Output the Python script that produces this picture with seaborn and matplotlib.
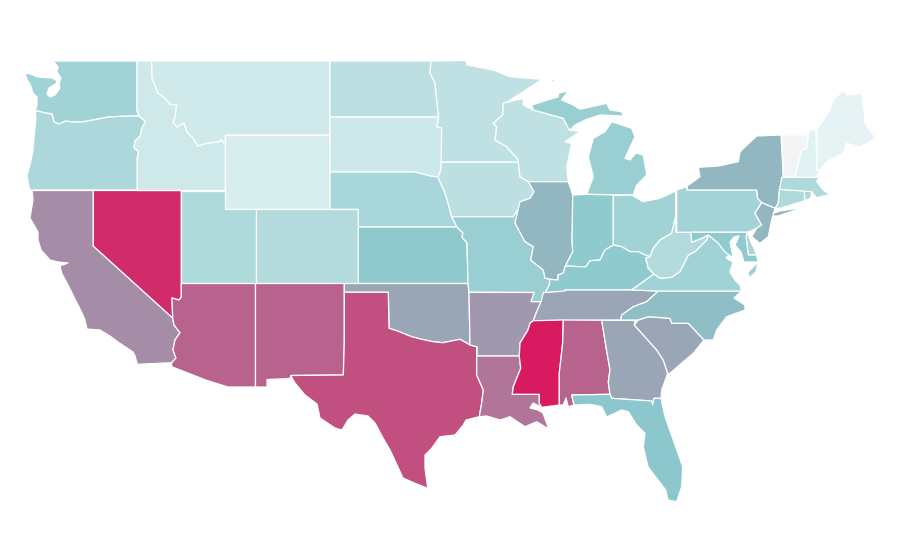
import pandas as pd
import seaborn as sns
import matplotlib.pyplot as plt

# shared borders in pixels
wa_or = [(139,116),(122,116.3),(108,117),(93,120),(82,122),(72,122),(66,121),(59,124),(54,122),(52,114),(45,113),(38,111),(35,112)]
or_id = [(139,116),(145.5,121.5),(142,128),(140,136.5),(135,141),(134,148),(138,151),(138.5,155),(137.3,157)]
id_mt = [(151.7,61),(152,78),(156,88),(158,93),(165,98),(170,104),(176.7,105),(175,118),(173,122),(177,127),(184,123),(187,132),(193,138),(198,146),(206.7,143.3),(218,142),(221.7,140),(225.3,145)]
ca_az = [(172.7,318),(174,325),(180,332.7),(175,340),(173,350),(176,358),(171.7,362.7)]
red_river = [(389,328.3),(396.7,330.7),(411.7,336.7),(421.7,339.3),(433,341.7),(443,342.7),(460,339.3),(470,345)]
ar_ms_river = [(541,301.7),(536.7,311.7),(533.3,320.7),(530,323.3),(528,330),(520,343),(519.3,356)]
la_ms = [(519.3,356),(520.7,368.3),(513.3,386.7),(512.3,394.3),(539.3,394.3),(539.3,403.3),(541.7,407.3)]
tx_la = [(476.7,346.7),(476.7,375),(483.3,390),(481.7,403),(479.3,416.7)]
al_ga = [(601.7,320.3),(606,346.7),(610,370),(608.3,381.7),(610,394.3)]
ga_fl = [(610,394.3),(611.7,398.3),(651.7,401),(652.7,405),(654,398.3),(661,398.3)]
ga_sc = [(634.3,325),(643.3,335),(656.7,350),(663.3,360),(667.7,373.3)]
nc_sc = [(620.7,320),(634.3,320),(638.3,320),(648.3,316.7),(670,318.3),(671.7,323.3),(688.3,323.3),(704,340)]
nc_tn = [(620.7,320),(621.7,315),(633.3,306.7),(646.7,301.7),(658.3,291)]
mo_il = [(520,201.7),(515,223),(525,241.7),(533.3,246.7),(530.7,260),(543.3,270),(545,278),(550,279.3)]
ia_mo_river = [(438,177),(445,193),(448,203),(451.7,216.7)]
ohio_river_in = [(613.3,245),(605,250),(600,260),(590,260.7),(586,266.7),(580,266.7),(566.7,266),(565,266.7)]
ohio_river_oh = [(613.3,245),(621.7,246.7),(630,251.7),(638.3,251.7),(645,255),(650,256.7)]
oh_wv = [(675.7,216.7),(671.7,233.3),(660,240),(653.3,248.3),(650,256.7)]
ky_wv = [(650,256.7),(645.7,258.3),(648.3,268.3),(654,274)]
va_wv = [(654,274),(660,278.3),(671.7,277.3),(680,271.7),(688.3,255),(695,251.7),(706.7,240),(708.3,235)]
mn_wi = [(503.3,103.3),(502.7,115),(493.3,123.3),(496.7,126.7),(495,140),(506.7,146.7),(518.3,160),(518.3,162.3)]
ny_pa_nj = [(756.7,190),(757.7,198.3),(761.7,202.7)]
pa_nj = [(761.7,202.7),(755,213.3),(761.7,225),(756.7,228.3)]
west_ny = [(779.3,190),(778.3,203.3),(775,208.3)]
mo_ks = [(457,227),(463,233),(462,237),(467,243),(468,283.5)]
mt_nd_x = 330

state_names = ["WA","OR","CA","NV","ID","MT","WY","UT","AZ","CO","NM","ND","SD","NE","KS","OK","TX",
               "MN","IA","MO","AR","LA","WI","IL","MI","IN","OH","KY","TN","MS","AL","GA","FL","SC","NC",
               "VA","WV","PA","NY","NJ","DE","MD","CT","RI","MA","VT","NH","ME"]
# reading of each state's shade on the light - teal - pink scale, VT has no value
state_values = [39,33,67,95,16,15,12,32,79,30,79,25,17,35,49,60,85,
                24,25,43,64,74,24,55,43,48,39,48,60,100,79,60,50,60,53,
                39,30,38,55,55,35,48,32,33,32,None,7,5]

shapes = {
    "WA": [[(54,61),(137,61),(137,110)] + wa_or + [(37,105),(37,97),(33,93),(30,84),(27,80),(25,73),(30,74),(38,77),(52,78),(56,80),(57,83),(49,88),(47,94),(50,97),(55,95),(60,88),(59,84),(61,78),(57,72),(58,67),(54,62)]],
    "OR": [wa_or[::-1] + or_id[1:] + [(137.3,190),(30,190),(29,187),(27,175),(30,165),(33,150),(34,138),(36,118)]],
    "CA": [[(32,190.5),(93.3,190.5),(93.3,246)] + ca_az + [(137.3,364.3),(135,356),(133,352),(118,342),(110,336),(100,330),(87,329),(85,320),(82,313),(73,295),(67,283),(62,274),(60,266),(68,263),(58,262),(50,260),(41,250),(38,240),(38,232),(30,218),(33,200)]],
    "NV": [[(93.3,190.5),(181.3,190.5),(181.3,297),(179,300),(172,298),(172.7,318),(93.3,246)]],
    "ID": [[(137,61)] + id_mt + [(225.3,190.5),(137.3,190.5),(137.3,157)] + or_id[::-1][1:] + [(137,110)]],
    "MT": [id_mt + [(225.3,135),(mt_nd_x,135),(mt_nd_x,61)]],
    "WY": [[(225.3,135),(mt_nd_x,135),(mt_nd_x,209.3),(225.3,209.3)]],
    "UT": [[(181.3,190.5),(225.3,190.5),(225.3,209.3),(255.5,209.3),(255.5,283.5),(181.3,283.5)]],
    "AZ": [[(181.3,283.5),(255.5,283.5),(255.5,387),(228,387),(205.7,380),(171.7,366.7)] + ca_az[::-1] + [(172,298),(179,300),(181.3,297)]],
    "CO": [[(255.5,209.3),(358.3,209.3),(358.3,283.5),(255.5,283.5)]],
    "NM": [[(255.5,283.5),(344.3,283.5),(344.3,343),(343.3,375),(290.7,375.5),(290,378.5),(267,379.5),(267,387),(255.5,387)]],
    "ND": [[(mt_nd_x,61),(431,61),(430,73),(435,83),(437,103),(438.7,117),(mt_nd_x,117)]],
    "SD": [[(mt_nd_x,117),(438.7,117),(437,127),(441.7,128),(441.7,162),(441,170),(438,177),(430,176),(415,172),(mt_nd_x,172)]],
    "NE": [[(mt_nd_x,172),(415,172),(430,176)] + ia_mo_river + [(457,227),(358.3,227),(358.3,209.3),(mt_nd_x,209.3)]],
    "KS": [[(358.3,227)] + mo_ks + [(358.3,283.5)]],
    "OK": [[(344.3,283.5),(468,283.5),(469,292.3)] + [(470,345)] + red_river[::-1][1:] + [(388.3,292.3),(344.3,292.3)]],
    "TX": [[(344.3,292.3),(388.3,292.3)] + red_river + tx_la + [(466,420),(463.3,425),(455,435),(440,436.7),(431.7,448.3),(425,455),(425,468),(427.7,488.3),(415,483.3),(403,478),(397,465),(390,450),(383,438),(375,423),(368,416),(355,414),(348,420),(342,430),(335,428),(320,418),(317,404),(305,395),(295,383),(290.7,375.5),(343.3,375),(344.3,343)]],
    "MN": [[(431,61),(466,60.5),(467,65),(493.3,70),(510,76.7),(541.7,79.3),(523.3,91.7),(505,103.3)] + mn_wi + [(441,162.3),(441.7,128),(437,127),(438.7,117),(437,103),(435,83),(430,73)]],
    "IA": [[(441,162.3),(518.3,162.3),(520,176.7),(528.3,181.7),(534,191.7),(530,198.3),(520,201.7),(520,206.7),(513.3,216.7),(451.7,216.7),(448,203),(445,193),(438,177),(441,170)]],
    "MO": [[(451.7,216.7),(513.3,216.7),(520,206.7)] + mo_il[1:] + [(549.3,285),(545,293),(541,301.7),(531,301.7),(534,292.5),(469,292.3),(468,283.5)] + mo_ks[::-1][1:]],
    "AR": [[(469,292.3),(534,292.5),(531,301.7)] + ar_ms_river + [(476.7,356),(476.7,346.7),(470,345)]],
    "LA": [[(476.7,356)] + la_ms + [(533,403),(530,408),(538,410),(543,413),(548.7,429),(536.7,421.7),(525,426.7),(510,416.7),(500,420),(486.7,416),(479.3,416.7)] + tx_la[::-1][1:]],
    "WI": [mn_wi[:-1] + [(518.3,162.3),(520,176.7),(528.3,181.7),(568.3,181.7),(566.7,166.7),(571.7,143.3),(565,141.7),(580,131.7),(570,130),(568.3,128.3),(563.3,118.3),(533.3,110),(523.3,105),(523.3,98.3)]],
    "IL": [[(528.3,181.7),(568.3,181.7),(573.3,196.7),(572,240),(572.7,251.7),(565,266.7),(563.3,273),(558,275),(558,280),(550,279.3)] + mo_il[::-1][1:] + [(530,198.3),(534,191.7)]],
    "MI": [[(586.7,194.3),(633.3,195),(636.7,185),(646.7,175),(643.3,155),(636,153),(630,160),(625,158.3),(635,136.7),(631.7,128.3),(611.7,121.7),(605,131.7),(593.3,138.3),(588.3,156.7),(593.3,176.7)],
           [(531.7,105),(558.3,96.7),(558.3,93.3),(568.3,90.7),(561.7,100),(573.3,105),(580,109.3),(606.7,103.3),(610,110),(621.7,111.7),(623.3,116),(600,115),(586.7,119.3),(575,125),(570,130),(568.3,128.3),(563.3,118.3),(533.3,110)],
           [(549,81),(556,78),(553,81.5)]],
    "IN": [[(572.7,195),(586.7,194.3),(613.3,195),(613.3,245)] + ohio_river_in[1:] + [(572.7,251.7),(572,240)]],
    "OH": [[(613.3,195.5),(631.7,195),(643,201.7),(660,198.3),(675.7,191)] + oh_wv + ohio_river_oh[::-1][1:]],
    "KY": [ohio_river_oh + ky_wv[1:] + [(643.3,281.7),(631.7,290),(565,290),(565,291.7),(543.3,292.7),(545,293),(549.3,285),(550,279.3),(558,280),(558,275),(563.3,273)] + ohio_river_in[::-1][:-1]],
    "TN": [[(543.3,292.7),(565,291),(565,290),(631.7,290),(658.3,291)] + nc_tn[::-1][1:] + [(533.3,320.7),(536.7,311.7),(541,301.7)]],
    "MS": [ar_ms_river[2:] + la_ms[1:] + [(559.3,405),(559.3,373),(562.7,343),(563.3,320)]],
    "AL": [[(563.3,320)] + al_ga + [(571.7,395),(574,405),(568.3,406.7),(566,398),(563.3,405),(559.3,405),(559.3,373),(562.7,343)]],
    "GA": [al_ga + ga_fl[1:] + [(661.7,390)] + ga_sc[::-1] + [(635,320.3)]],
    "FL": [[(571.7,395)] + ga_fl + [(665,416.7),(673.3,440),(682.7,466.7),(681.7,486.7),(676.7,501.7),(668,500),(665.7,490),(656.7,478.3),(648,466.7),(643.3,446.7),(645,433.3),(636.7,425),(628.3,411.7),(621.7,410),(606.7,417),(601.7,406.7),(590,404.3),(576.7,405),(574,405)]],
    "SC": [nc_sc[2:] + [(693.3,353.3),(683.3,361.7),(670,373.3)] + ga_sc[::-1]],
    "NC": [nc_tn + [(741.7,291),(734,298),(745,305),(745,310),(726.7,316.7),(716.7,330),(713.3,340)] + [(704,340)] + nc_sc[::-1][1:]],
    "VA": [[(654,274)] + va_wv[1:] + [(716,241),(727,246),(731,253),(726,258),(733,262),(730,272),(735,280),(740,285),(741.7,291),(658.3,291),(631.7,290),(643.3,281.7)],
           [(748,272),(758,262),(756,272),(749,278)]],
    "WV": [oh_wv + ky_wv[1:] + va_wv[1:] + [(701.7,238.3),(691.7,242.3),(691,232.3),(676,232.3)]],
    "PA": [[(676.7,190),(686.7,186.7),(687.3,190)] + ny_pa_nj + pa_nj[1:] + [(747.3,232.3),(676.7,232.3)]],
    "NY": [[(687.3,186),(700,176.7),(698.3,167.3),(718.3,166),(738.3,161.7),(740,151.7),(756.7,136),(781,135),(783.3,176.7)] + west_ny + ny_pa_nj[::-1] + [(687.3,190)],
           [(771,214),(780,211),(801.7,207.5),(790,212),(778,216),(772,216)]],
    "NJ": [[(761.7,202.7),(775,208.3),(771.7,220),(768.3,236.7),(760,243.3),(751.7,236.7)] + pa_nj[::-1][:-1]],
    "DE": [[(747.3,232.3),(750,240),(753.3,246.7),(756.7,255),(748.3,255),(746,236.7)]],
    "MD": [[(691,232.3),(747.3,232.3),(746,236.7),(748.3,255),(756.7,255),(758,262),(744,262),(741,252),(735,245),(739,236),(734,237),(730,242),(732,252),(733,258),(725,252),(718,243),(708.3,235),(701.7,238.3),(691.7,242.3)]],
    "CT": [[(779.5,189.3),(804.3,190.7),(805,200.7),(780,208.3),(775,208.3),(778.3,203.3)]],
    "RI": [[(804.3,190.7),(811.7,191.7),(810.7,198.3),(805,200.7)]],
    "MA": [[(781.7,177.3),(816.7,177.3),(820,175),(816.7,181.7),(823.3,190),(830,195),(823,196),(816.7,198),(811.7,191.7),(779.5,189.3)]],
    "VT": [[(781.7,135),(808.3,135),(806.7,148.3),(801.7,150),(795,177),(783.3,176.7)]],
    "NH": [[(810,130),(816,130),(816.7,170),(820,170),(816.7,177.3),(795,177.3),(801.7,150),(806.7,148.3),(808.3,135)]],
    "ME": [[(816.7,130),(828.3,113.3),(833.3,100),(843.3,90),(846.7,95),(861.7,93.3),(864,110),(865,123.3),(876,138.3),(860,146.7),(846.7,143.3),(843.3,153.3),(826.7,161.7),(820,170),(816.7,170)]],
}

sns.set_theme(style="white")
df = pd.DataFrame({"state": state_names, "value": state_values})
cmap = sns.blend_palette(["#eef8f9", "#8bc8cc", "#d81b60"], n_colors=256, as_cmap=True)
no_value_color = "#f3f4f6"

fig, ax = plt.subplots(figsize=(9, 5.6), dpi=100)
fig.subplots_adjust(0, 0, 1, 1)

for _, row in df.iterrows():
    color = no_value_color if pd.isna(row["value"]) else cmap(row["value"] / 100)
    for part in shapes[row["state"]]:
        xs = [p[0] for p in part]
        ys = [p[1] for p in part]
        ax.fill(xs, ys, facecolor=color, edgecolor="white", linewidth=0.9, joinstyle="round")

ax.set_xlim(0, 900)
ax.set_ylim(560, 0)
ax.set_axis_off()
sns.despine(ax=ax, left=True, bottom=True)

fig.savefig("out.png", dpi=100, facecolor="white")
